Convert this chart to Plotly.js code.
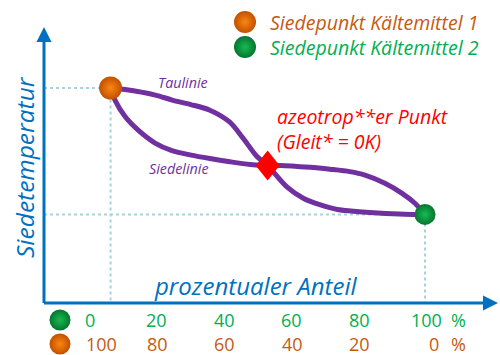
<!DOCTYPE html>
<html>
<head>
<meta charset="utf-8">
<script src="https://cdn.plot.ly/plotly-3.0.1.min.js"></script>
<style>
  html, body { margin: 0; padding: 0; background: #ffffff; }
  #chart { width: 500px; height: 355px; }
</style>
</head>
<body>
<div id="chart"></div>
<script>
// Composition axis: share of refrigerant 2 (%), refrigerant 1 is the complement
const tickVals = [0, 20, 40, 60, 80, 100];
const shareKM2 = ['0', '20', '40', '60', '80', '100'];
const shareKM1 = ['100', '80', '60', '40', '20', '0'];

// Dew line (Taulinie): composition vs. boiling temperature (relative units)
const tauX = [6.7, 11, 20, 25, 30.5, 36, 42, 46, 50, 53.3, 59, 64, 69, 74, 78, 86, 94, 100];
const tauY = [100, 99.3, 96.7, 94.4, 92.3, 89.8, 84.2, 76.7, 68.4, 63.9, 54, 48.6, 45.6, 43.5, 42.8, 41.9, 41.3, 41.2];

// Bubble line (Siedelinie)
const siedeX = [6.7, 8, 11, 14.8, 19.9, 24.9, 30.6, 36.2, 42.1, 48.1, 53.3, 57, 65.9, 71.8, 77.7, 82.2, 88.1, 93.2, 97, 100];
const siedeY = [100, 94.4, 86.7, 80.5, 74.4, 70.9, 68.8, 67.2, 65.7, 64.4, 63.9, 64, 63.1, 62.2, 61.1, 59.5, 55.7, 51, 46.4, 41.2];

// Boiling points of the pure refrigerants
const boilNames = ['Siedepunkt Kältemittel 1', 'Siedepunkt Kältemittel 2'];
const boilX = [6.7, 100];
const boilY = [100, 41.2];

// Azeotropic point where both lines meet
const azeoX = [53.3];
const azeoY = [63.9];

const C = {
  axis: '#0070c0',
  line: '#7030a0',
  km1: '#c55a11',
  km2: '#00b050',
  red: '#ff0000',
  guide: '#a8d3d8',
  ball1Edge: '#c25000', ball1Core: '#fb8612',
  ball2Edge: '#057530', ball2Core: '#18bb52'
};

const FONT = 'Open Sans, Noto Sans, DejaVu Sans, sans-serif';

// Plot area in page pixels
const W = 500, H = 355;
const plotL = 44, plotR = 498, plotT = 27, plotB = 303;
const xRange = [-13.06, 121.66];
const yRange = [0, 128.37];

const guideLine = { color: C.guide, width: 2, dash: 'dot' };

const traces = [
  // guide lines from each pure-substance boiling point to both axes
  ...boilX.map((bx, i) => ({
    x: [xRange[0], bx, bx], y: [boilY[i], boilY[i], yRange[0]],
    mode: 'lines', line: guideLine, hoverinfo: 'skip', showlegend: false
  })),
  { x: tauX, y: tauY, name: 'Taulinie', mode: 'lines',
    line: { color: C.line, width: 5, shape: 'spline', smoothing: 0.8 }, showlegend: false },
  { x: siedeX, y: siedeY, name: 'Siedelinie', mode: 'lines',
    line: { color: C.line, width: 5, shape: 'spline', smoothing: 0.8 }, showlegend: false },
  { x: boilX, y: boilY, mode: 'markers', showlegend: false, cliponaxis: false,
    marker: { size: [23, 21], color: [C.ball1Edge, C.ball2Edge], opacity: 1,
      gradient: { type: 'radial', color: [C.ball1Core, C.ball2Core] },
      line: { width: 0 } } },
  // key swatches (legend rows and the two scale rows), page-pixel frame
  { x: [245, 245, 60, 60], y: [22, 47, 320, 344], xaxis: 'x2', yaxis: 'y2',
    mode: 'markers', showlegend: false, cliponaxis: false,
    marker: { size: [22, 22, 21, 21], opacity: 1,
      color: [C.ball1Edge, C.ball2Edge, C.ball2Edge, C.ball1Edge],
      gradient: { type: 'radial', color: [C.ball1Core, C.ball2Core, C.ball2Core, C.ball1Core] },
      line: { width: 0 } } }
];

const ann = [];
// axis arrows
ann.push({ xref: 'x2', yref: 'y2', axref: 'x2', ayref: 'y2', x: plotL, y: plotT, ax: plotL, ay: plotB + 1.5,
  text: '', showarrow: true, arrowhead: 2, arrowwidth: 3, arrowsize: 1, arrowcolor: C.axis, standoff: 0 });
ann.push({ xref: 'x2', yref: 'y2', axref: 'x2', ayref: 'y2', x: plotR, y: plotB, ax: plotL - 1.5, ay: plotB,
  text: '', showarrow: true, arrowhead: 2, arrowwidth: 3, arrowsize: 1, arrowcolor: C.axis, standoff: 0 });

// axis titles
ann.push({ xref: 'x2', yref: 'y2', x: 256, y: 285, text: 'prozentualer Anteil', showarrow: false,
  font: { family: FONT, size: 24, color: C.axis, style: 'italic' } });
ann.push({ xref: 'x2', yref: 'y2', x: 24, y: 167, text: 'Siedetemperatur', textangle: -90, showarrow: false,
  font: { family: FONT, size: 24.5, color: C.axis, style: 'italic' } });

// legend texts
boilNames.forEach((n, i) => ann.push({ xref: 'x2', yref: 'y2', x: 268, y: i === 0 ? 22 : 47, xanchor: 'left',
  text: n, showarrow: false, font: { family: FONT, size: 19.5, color: i === 0 ? C.km1 : C.km2, style: 'italic' } }));

// curve labels
ann.push({ xref: 'x2', yref: 'y2', x: 183, y: 82, text: 'Taulinie', showarrow: false,
  font: { family: FONT, size: 14.3, color: C.line, style: 'italic' } });
ann.push({ xref: 'x2', yref: 'y2', x: 179, y: 168, text: 'Siedelinie', showarrow: false,
  font: { family: FONT, size: 14.3, color: C.line, style: 'italic' } });

// azeotrope note, one annotation per line for tight spacing
['azeotrop**er Punkt', '(Gleit* = 0K)'].forEach((t, i) => ann.push({
  xref: 'x2', yref: 'y2', x: 276, y: 116 + 25 * i, xanchor: 'left', align: 'left', borderpad: 0,
  text: t, showarrow: false, font: { family: FONT, size: 19.5, color: C.red, style: 'italic' } }));

// scale rows under the axis
const last = tickVals.length - 1;
tickVals.forEach((v, i) => {
  ann.push({ xref: 'x', yref: 'y2', x: v, y: 320, xshift: 1.5, text: shareKM2[i], showarrow: false,
    font: { family: FONT, size: 18, color: C.km2 } });
  const anchor = i === 0 ? 'left' : (i === last ? 'right' : 'center');
  const shift = i === 0 ? -4 : (i === last ? 16 : 2);
  ann.push({ xref: 'x', yref: 'y2', x: v, y: 344, xshift: shift, xanchor: anchor, text: shareKM1[i], showarrow: false,
    font: { family: FONT, size: 18, color: C.km1 } });
});
ann.push({ xref: 'x', yref: 'y2', x: tickVals[last], y: 320, xshift: 33, text: '%', showarrow: false,
  font: { family: FONT, size: 18, color: C.km2 } });
ann.push({ xref: 'x', yref: 'y2', x: tickVals[last], y: 344, xshift: 33, text: '%', showarrow: false,
  font: { family: FONT, size: 18, color: C.km1 } });

const layout = {
  width: W, height: H,
  margin: { l: 0, r: 0, t: 0, b: 0 },
  paper_bgcolor: '#ffffff', plot_bgcolor: 'rgba(0,0,0,0)',
  showlegend: false, hovermode: false,
  xaxis: { domain: [plotL / W, plotR / W], range: xRange, visible: false, fixedrange: true },
  yaxis: { domain: [(H - plotB) / H, (H - plotT) / H], range: yRange, visible: false, fixedrange: true },
  xaxis2: { domain: [0, 1], range: [0, W], visible: false, anchor: 'y2', fixedrange: true },
  yaxis2: { domain: [0, 1], range: [H, 0], visible: false, anchor: 'x2', fixedrange: true },
  shapes: [{
    type: 'path', xref: 'x', yref: 'y', xsizemode: 'pixel', ysizemode: 'pixel',
    xanchor: azeoX[0], yanchor: azeoY[0], path: 'M0,15 L12,0 L0,-15 L-12,0 Z',
    fillcolor: C.red, line: { width: 0 }, layer: 'above'
  }],
  annotations: ann
};

Plotly.newPlot('chart', traces, layout, { staticPlot: true, displayModeBar: false });
</script>
</body>
</html>
